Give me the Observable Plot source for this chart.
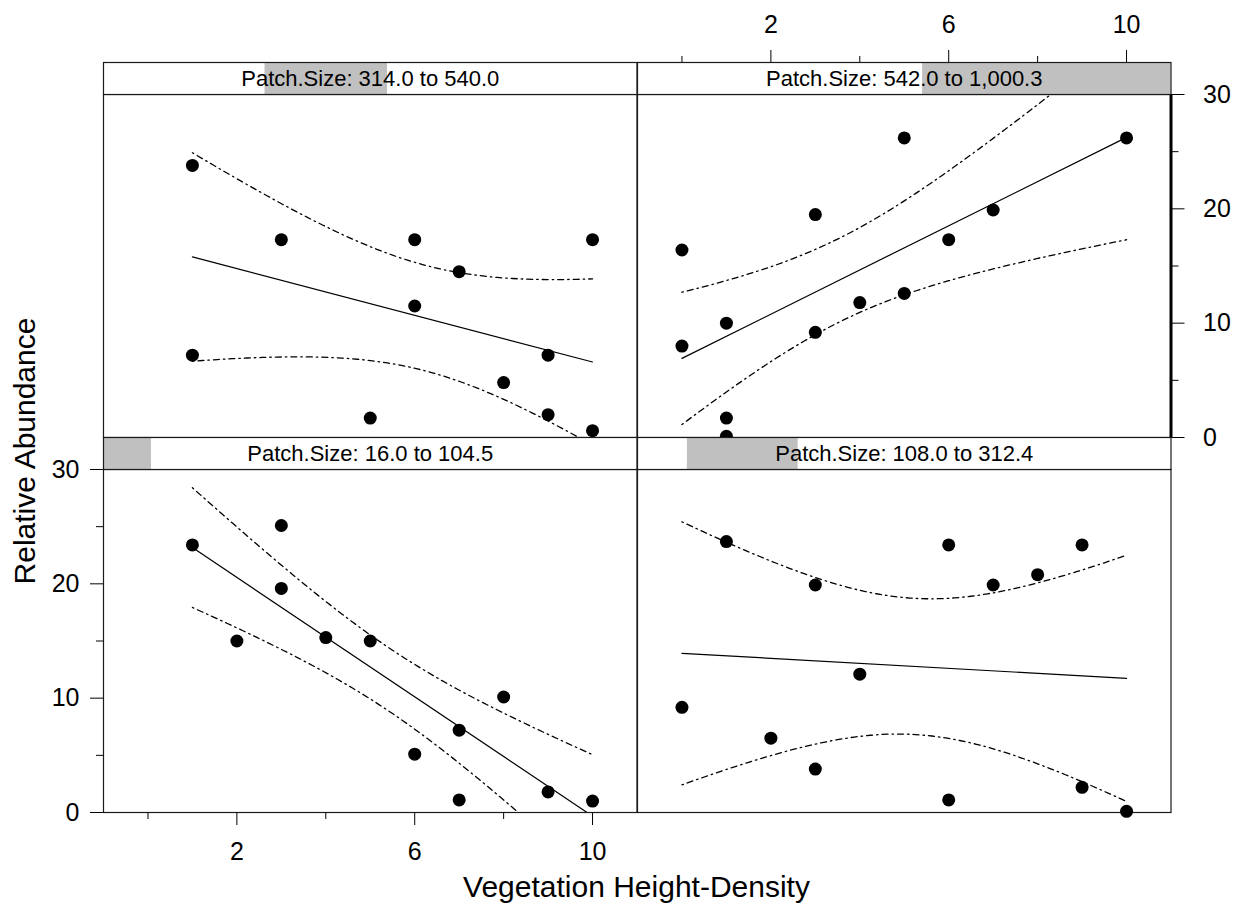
<!DOCTYPE html>
<html>
<head>
<meta charset="utf-8">
<script src="https://cdn.jsdelivr.net/npm/d3@7"></script>
<script src="https://cdn.jsdelivr.net/npm/@observablehq/plot@0.6"></script>
<style>
  html, body { margin: 0; padding: 0; background: #fff; }
  #wrap { position: relative; width: 1233px; height: 908px; overflow: hidden;
          font-family: "Liberation Sans", Arial, sans-serif; color: #000; }
  #wrap > svg { position: absolute; }
  .lab { position: absolute; font-size: 30px; line-height: 1; white-space: nowrap; }
</style>
</head>
<body>
<div id="wrap"></div>
<script>
// ---------------- data ----------------
const xDomain = [-1, 11];
const yDomain = [0, 30];
const xMajorTicks = [2, 6, 10];
const xMinorTicks = [0, 4, 8];
const yMajorTicks = [0, 10, 20, 30];
const yMinorTicks = [5, 15, 25];
const patchDomain = [16.0, 1000.3];

// panel order: top-left, top-right, bottom-left, bottom-right
const stripLabels = [
  "Patch.Size: 314.0 to 540.0",
  "Patch.Size: 542.0 to 1,000.3",
  "Patch.Size: 16.0 to 104.5",
  "Patch.Size: 108.0 to 312.4"
];
const patchLow  = [314.0, 542.0, 16.0, 108.0];
const patchHigh = [540.0, 1000.3, 104.5, 312.4];

const vegTL   = [1, 1, 3, 5, 6, 6, 7, 8, 9, 9, 10, 10];
const abundTL = [23.8, 7.2, 17.3, 1.7, 17.3, 11.5, 14.5, 4.8, 7.2, 2.0, 17.3, 0.6];

const vegTR   = [0, 0, 1, 1, 1, 3, 3, 4, 5, 5, 6, 7, 10];
const abundTR = [16.4, 8.0, 10.0, 1.7, 0.1, 19.5, 9.2, 11.8, 26.2, 12.6, 17.3, 19.9, 26.2];

const vegBL   = [1, 2, 3, 3, 4, 5, 6, 7, 7, 8, 9, 10];
const abundBL = [23.4, 15.0, 25.1, 19.6, 15.3, 15.0, 5.1, 7.2, 1.1, 10.1, 1.8, 1.0];

const vegBR   = [0, 1, 2, 3, 3, 4, 6, 6, 7, 8, 9, 9, 10];
const abundBR = [9.2, 23.7, 6.5, 19.9, 3.8, 12.1, 23.4, 1.1, 19.9, 20.8, 23.4, 2.2, 0.1];

const vegs   = [vegTL, vegTR, vegBL, vegBR];
const abunds = [abundTL, abundTR, abundBL, abundBR];

// Student t 97.5% quantiles for the residual degrees of freedom
const tCrit = {9: 2.262, 10: 2.228, 11: 2.201, 12: 2.179};

// ---------------- layout ----------------
const FONT = '"Liberation Sans", Arial, sans-serif';
const colLeft = [103, 636.5];
const colW = 533.5;
const stripTop = [62, 437];
const stripH = 32;
const panelTop = [94, 469];
const panelH = 343;
const M = 70;

// 95% confidence band of the OLS fit (as the lattice panel draws it)
function ciBand(xs, ys) {
  const n = xs.length;
  const mx = d3.mean(xs), my = d3.mean(ys);
  const sxx = d3.sum(xs, x => (x - mx) ** 2);
  const sxy = d3.sum(xs, (x, i) => (x - mx) * (ys[i] - my));
  const b = sxy / sxx, a = my - b * mx;
  const sse = d3.sum(xs, (x, i) => (ys[i] - a - b * x) ** 2);
  const s = Math.sqrt(sse / (n - 2));
  const t = tCrit[n - 2];
  const [x0, x1] = d3.extent(xs);
  return d3.range(0, 81).map(k => {
    const x = x0 + (x1 - x0) * k / 80;
    const yh = a + b * x;
    const h = t * s * Math.sqrt(1 / n + (x - mx) ** 2 / sxx);
    return {x, lo: yh - h, hi: yh + h};
  });
}

const wrap = document.getElementById("wrap");
const dash = "1.5,4,6,4";

function panel(i, opt) {
  const data = vegs[i].map((x, j) => ({x, y: abunds[i][j]}));
  const band = ciBand(vegs[i], abunds[i]);
  const marks = [
    Plot.frame({stroke: "#1a1a1a", strokeWidth: 1.2}),
    Plot.linearRegressionY(data, {x: "x", y: "y", ci: 0, stroke: "#000", strokeWidth: 1.2, clip: true}),
    Plot.line(band, {x: "x", y: "hi", stroke: "#000", strokeWidth: 1.3, strokeDasharray: dash, clip: true}),
    Plot.line(band, {x: "x", y: "lo", stroke: "#000", strokeWidth: 1.3, strokeDasharray: dash, clip: true}),
    Plot.dot(data, {x: "x", y: "y", r: 6.5, fill: "#000", stroke: "none"})
  ];
  let hasX = false, hasY = false;
  if (opt.bottom) {
    hasX = true;
    marks.push(Plot.axisX({ticks: xMajorTicks, anchor: "bottom", tickSize: 13, tickPadding: 17, label: null, fontSize: 25}));
    marks.push(Plot.axisX({ticks: xMinorTicks, anchor: "bottom", tickSize: 7, tickFormat: () => "", label: null}));
  }
  if (opt.top) {
    hasX = true;
    marks.push(Plot.axisX({ticks: xMajorTicks, anchor: "top", tickSize: 13, tickPadding: 17, label: null, fontSize: 25, dy: -stripH}));
    marks.push(Plot.axisX({ticks: xMinorTicks, anchor: "top", tickSize: 7, tickFormat: () => "", label: null, dy: -stripH}));
  }
  if (opt.left) {
    hasY = true;
    marks.push(Plot.axisY({ticks: yMajorTicks, anchor: "left", tickSize: 13, tickPadding: 11, label: null, fontSize: 25}));
    marks.push(Plot.axisY({ticks: yMinorTicks, anchor: "left", tickSize: 7, tickFormat: () => "", label: null}));
  }
  if (opt.right) {
    hasY = true;
    marks.push(Plot.ruleX([xDomain[1]], {stroke: "#000", strokeWidth: 3}));
    marks.push(Plot.axisY({ticks: yMajorTicks, anchor: "right", tickSize: 13, tickPadding: 19, label: null, fontSize: 25}));
    marks.push(Plot.axisY({ticks: yMinorTicks, anchor: "right", tickSize: 7, tickFormat: () => "", label: null}));
  }
  const svg = Plot.plot({
    width: colW + 2 * M,
    height: panelH + 2 * M,
    margin: M,
    x: {domain: xDomain, ...(hasX ? {} : {axis: null})},
    y: {domain: yDomain, ...(hasY ? {} : {axis: null})},
    style: {background: "transparent", overflow: "visible", fontFamily: FONT, fontSize: "25px", color: "#000"},
    marks
  });
  svg.style.left = colLeft[opt.col] - M + "px";
  svg.style.top = panelTop[opt.row] - M + "px";
  wrap.appendChild(svg);
}

function strip(i, row, col) {
  const svg = Plot.plot({
    width: colW,
    height: stripH,
    margin: 0,
    x: {domain: patchDomain, axis: null},
    y: {axis: null},
    style: {background: "#fff", overflow: "visible", fontFamily: FONT, color: "#000"},
    marks: [
      Plot.rect([i], {x1: j => patchLow[j], x2: j => patchHigh[j], fill: "#c0c0c0"}),
      Plot.text([stripLabels[i]], {frameAnchor: "middle", fontSize: 22, fill: "#000"}),
      Plot.frame({stroke: "#1a1a1a", strokeWidth: 1.2})
    ]
  });
  svg.style.left = colLeft[col] + "px";
  svg.style.top = stripTop[row] + "px";
  wrap.appendChild(svg);
}

panel(0, {row: 0, col: 0});
panel(1, {row: 0, col: 1, top: true, right: true});
strip(0, 0, 0);
strip(1, 0, 1);
panel(2, {row: 1, col: 0, left: true, bottom: true});
panel(3, {row: 1, col: 1});
strip(2, 1, 0);
strip(3, 1, 1);

// axis titles
const xl = document.createElement("div");
xl.className = "lab";
xl.textContent = "Vegetation Height-Density";
xl.style.left = "636.5px"; xl.style.top = "887px";
xl.style.transform = "translate(-50%, -50%)";
wrap.appendChild(xl);

const yl = document.createElement("div");
yl.className = "lab";
yl.textContent = "Relative Abundance";
yl.style.left = "25px"; yl.style.top = "451px";
yl.style.transform = "translate(-50%, -50%) rotate(-90deg)";
wrap.appendChild(yl);
</script>
</body>
</html>
